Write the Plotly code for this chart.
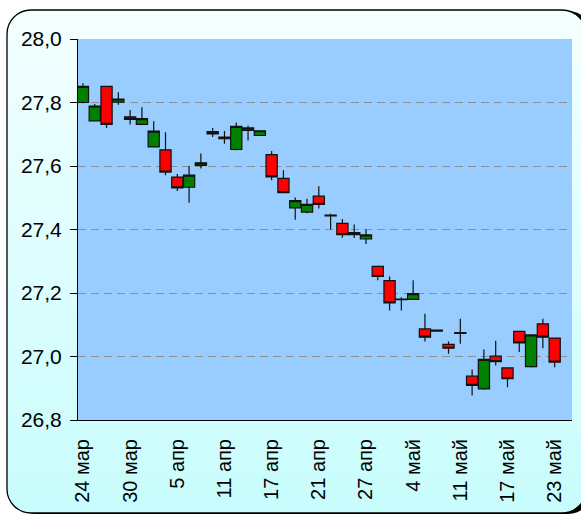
import base64
import plotly.graph_objects as go

dates = ["24 мар", "25 мар", "26 мар", "27 мар", "30 мар", "31 мар", "1 апр", "2 апр",
         "5 апр", "6 апр", "7 апр", "8 апр", "11 апр", "12 апр", "13 апр", "14 апр",
         "17 апр", "18 апр", "19 апр", "20 апр", "21 апр", "22 апр", "23 апр", "24 апр",
         "27 апр", "28 апр", "29 апр", "30 апр", "4 май", "5 май", "6 май", "7 май",
         "11 май", "12 май", "13 май", "14 май", "17 май", "18 май", "19 май", "20 май",
         "23 май"]

open_ = [27.800, 27.742, 27.851, 27.801, 27.755, 27.731, 27.660, 27.651, 27.565, 27.533,
         27.602, 27.701, 27.686, 27.652, 27.712, 27.696, 27.636, 27.561, 27.468, 27.455,
         27.505, 27.443, 27.419, 27.384, 27.370, 27.284, 27.239, 27.179, 27.180, 27.087,
         27.083, 27.038, 27.073, 26.938, 26.898, 27.001, 26.964, 27.079, 26.968, 27.103,
         27.058]
high = [27.861, 27.795, 27.853, 27.832, 27.776, 27.785, 27.741, 27.706, 27.575, 27.600,
        27.639, 27.720, 27.710, 27.737, 27.727, 27.712, 27.647, 27.587, 27.501, 27.497,
        27.536, 27.450, 27.433, 27.416, 27.400, 27.286, 27.252, 27.187, 27.240, 27.135,
        27.084, 27.047, 27.119, 26.959, 27.022, 27.050, 26.966, 27.080, 27.069, 27.119,
        27.059]
low = [27.798, 27.740, 27.720, 27.793, 27.731, 27.729, 27.658, 27.571, 27.521, 27.484,
       27.592, 27.691, 27.670, 27.650, 27.680, 27.695, 27.555, 27.514, 27.431, 27.451,
       27.466, 27.400, 27.374, 27.373, 27.354, 27.240, 27.145, 27.145, 27.179, 27.047,
       27.079, 27.009, 27.040, 26.877, 26.895, 26.972, 26.903, 27.014, 26.965, 27.026,
       26.966]
close = [27.851, 27.789, 27.731, 27.811, 27.747, 27.749, 27.710, 27.581, 27.531, 27.571,
         27.610, 27.708, 27.691, 27.725, 27.720, 27.711, 27.566, 27.516, 27.491, 27.479,
         27.479, 27.445, 27.384, 27.390, 27.383, 27.252, 27.169, 27.181, 27.198, 27.061,
         27.080, 27.026, 27.075, 26.909, 26.991, 26.984, 26.930, 27.043, 27.068, 27.061,
         26.982]

tick_labels = dates[::4]

W, H = 581, 515
L, R, T, B = 78, 9, 39, 95
pw, ph = W - L - R, H - T - B

svg = f'''<svg xmlns="http://www.w3.org/2000/svg" width="{W}" height="{H}" viewBox="0 0 {W} {H}" preserveAspectRatio="none">
<defs><linearGradient id="g" x1="0" y1="0" x2="0" y2="1">
<stop offset="0" stop-color="#F4FFFF"/><stop offset="1" stop-color="#C8FCFC"/></linearGradient></defs>
<rect x="0" y="0" width="{W}" height="{H}" fill="#FFFFFF"/>
<rect x="13" y="11" width="579" height="503" rx="24" ry="24" fill="#000000"/>
<rect x="7" y="10" width="579" height="503" rx="24" ry="24" fill="url(#g)" stroke="#000000" stroke-width="1.3"/>
</svg>'''
src = "data:image/svg+xml;base64," + base64.b64encode(svg.encode()).decode()

fig = go.Figure()
fig.add_trace(go.Candlestick(
    x=dates, open=open_, high=high, low=low, close=close,
    increasing=dict(fillcolor="#008000", line=dict(color="#111111", width=1.2)),
    decreasing=dict(fillcolor="#FF0000", line=dict(color="#111111", width=1.2)),
    whiskerwidth=0, showlegend=False, hoverinfo="skip",
))

fig.update_layout(
    width=W, height=H,
    margin=dict(l=L, r=R, t=T, b=B, pad=0, autoexpand=False),
    paper_bgcolor="#FFFFFF",
    plot_bgcolor="rgba(0,0,0,0)",
    separators=", ",
    boxgap=0.05, boxgroupgap=0,
    font=dict(family="Liberation Sans, Arial, sans-serif", color="#000000"),
    images=[dict(source=src, xref="paper", yref="paper",
                 x=-L / pw, y=1 + T / ph, sizex=W / pw, sizey=H / ph,
                 xanchor="left", yanchor="top", sizing="stretch", layer="below")],
    shapes=[dict(type="rect", xref="paper", yref="paper", x0=0, x1=1, y0=0, y1=1,
                 fillcolor="#99CCFF", line=dict(width=0), layer="below")],
)
fig.update_xaxes(
    type="category", categoryorder="array", categoryarray=dates,
    range=[-0.42, 41.47], rangeslider=dict(visible=False),
    tickmode="array", tickvals=tick_labels, ticktext=tick_labels,
    tickangle=-90, tickfont=dict(size=20), automargin=False,
    showgrid=False, showline=True, linecolor="#000000", linewidth=1,
    ticks="", ticklabelstandoff=10, zeroline=False,
)
fig.update_yaxes(
    range=[26.8, 28.0], dtick=0.2, tick0=26.8, tickformat=".1f",
    tickfont=dict(size=21), automargin=False,
    showgrid=True, gridcolor="#8F8F8F", gridwidth=1, griddash="8px,5px",
    showline=True, linecolor="#000000", linewidth=1,
    ticks="outside", ticklen=7, tickcolor="#000000", ticklabelstandoff=4,
    zeroline=False,
)

fig.write_html(
    "out.html",
    config={"displayModeBar": False},
    post_script="document.body.style.margin='0';document.body.style.overflow='hidden';",
)
